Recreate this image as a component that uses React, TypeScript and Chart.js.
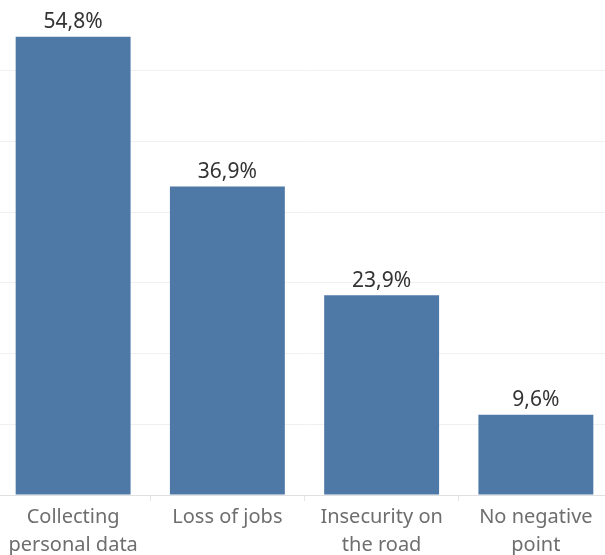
import React, { useEffect, useRef } from "react";
import { Chart, registerables } from "chart.js";

Chart.register(...registerables);

const categories: (string | string[])[] = [
  ["Collecting", "personal data"],
  "Loss of jobs",
  ["Insecurity on", "the road"],
  ["No negative", "point"],
];
const values: number[] = [54.8, 36.9, 23.9, 9.6];
const valueLabels: string[] = ["54,8%", "36,9%", "23,9%", "9,6%"];
const yMax = 59.2;
const gridCount = 7;

const valueLabelPlugin = {
  id: "valueLabels",
  afterDatasetsDraw(chart: any) {
    const ctx = chart.ctx;
    const meta = chart.getDatasetMeta(0);
    ctx.save();
    ctx.font = "21px 'Noto Sans', sans-serif";
    ctx.fillStyle = "#333333";
    ctx.textAlign = "center";
    ctx.textBaseline = "bottom";
    meta.data.forEach((bar: any, i: number) => {
      ctx.fillText(valueLabels[i], bar.x, bar.y - 4);
    });
    ctx.restore();
  },
};

export default function App() {
  const ref = useRef<HTMLCanvasElement | null>(null);
  useEffect(() => {
    document.body.style.margin = "0";
    document.body.style.overflow = "hidden";
    if (!ref.current) return;
    const chart = new Chart(ref.current, {
      type: "bar",
      data: {
        labels: categories,
        datasets: [
          {
            data: values,
            backgroundColor: "#4e79a7",
            categoryPercentage: 1,
            barPercentage: 0.745,
          },
        ],
      },
      options: {
        animation: false,
        responsive: false,
        maintainAspectRatio: false,
        layout: { padding: 0 },
        plugins: {
          legend: { display: false },
          tooltip: { enabled: false },
        },
        scales: {
          x: {
            grid: {
              display: true,
              drawOnChartArea: false,
              drawTicks: true,
              tickLength: 6,
              color: "#e6e6e6",
              offset: true,
            },
            border: { display: true, color: "#e0e0e0" },
            ticks: {
              color: "#6e6e6e",
              font: { family: "'Noto Sans', sans-serif", size: 20, lineHeight: 1.4 },
              padding: 2,
              maxRotation: 0,
              autoSkip: false,
            },
          },
          y: {
            min: 0,
            max: yMax,
            afterBuildTicks: (axis: any) => {
              const t = [];
              for (let i = 0; i <= gridCount; i++) t.push({ value: (i * yMax) / gridCount });
              axis.ticks = t;
            },
            grid: {
              color: (c: any) => (c.index === gridCount ? "rgba(0,0,0,0)" : "#f0f0f0"),
              drawTicks: false,
            },
            border: { display: false },
            ticks: { display: false },
          },
        },
      },
      plugins: [valueLabelPlugin],
    });
    return () => chart.destroy();
  }, []);
  return (
    <div style={{ position: "fixed", left: -4, top: 0, width: 617, height: 561 }}>
      <canvas ref={ref} width={617} height={561} style={{ display: "block" }} />
    </div>
  );
}
